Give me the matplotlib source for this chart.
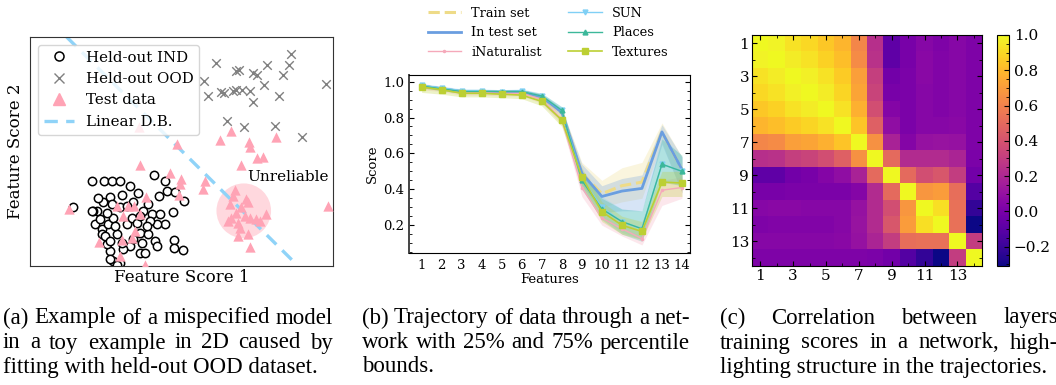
import numpy as np
import matplotlib
matplotlib.use('Agg')
import matplotlib.pyplot as plt
from matplotlib.lines import Line2D
from matplotlib.patches import Circle
from matplotlib.ticker import AutoMinorLocator, MultipleLocator

plt.rcParams['font.family'] = 'DejaVu Serif'
plt.rcParams['mathtext.fontset'] = 'dejavuserif'

# ---- (a) toy example, feature scores ----
ind_x = [1.87, 2.23, 2.47, 2.70, 3.00, 3.25, 3.73, 4.05, 4.10, 3.88, 4.35, 4.62, 4.28, 1.30,
         2.00, 2.20, 2.40, 2.75, 3.10, 3.55, 3.40, 3.65, 3.90, 4.05, 3.80, 3.60, 1.95, 2.15,
         2.35, 2.50, 2.30, 2.60, 2.90, 3.30, 3.55, 3.75, 3.80, 3.35, 3.30, 3.45, 3.00, 2.80,
         2.40, 2.30, 4.33, 4.33, 4.60, 2.50, 2.70, 2.15, 1.90, 2.10, 2.45, 2.70, 3.05, 3.20,
         2.90, 2.55, 2.25, 2.75, 3.10, 2.40, 3.50, 3.30, 2.05, 1.85, 2.40, 2.60]
ind_y = [2.55, 2.55, 2.53, 2.53, 2.40, 2.18, 2.72, 2.53, 2.25, 2.10, 2.20, 1.93, 1.63, 1.77,
         1.65, 1.90, 2.05, 2.13, 1.90, 1.85, 1.65, 1.57, 1.55, 1.25, 1.25, 1.35, 1.27, 1.10,
         1.25, 1.45, 1.60, 0.95, 1.25, 1.00, 0.95, 0.75, 0.60, 0.70, 0.40, 0.40, 0.60, 0.50,
         0.45, 0.65, 0.77, 0.53, 0.47, 0.15, 0.10, 0.95, 1.65, 1.40, 1.85, 1.75, 1.45, 1.30,
         1.80, 1.20, 0.90, 0.70, 0.80, 0.75, 1.20, 1.50, 2.03, 1.65, 0.20, 0.02]

ood_x = [5.60, 6.20, 6.27, 6.70, 6.82, 7.12, 7.85, 7.78, 7.60, 7.02, 5.23, 5.35, 5.75,
         5.83, 6.10, 6.20, 6.38, 6.60, 6.70, 7.48, 8.90, 5.93, 6.42, 7.35, 8.17]
ood_y = [6.07, 5.83, 5.87, 5.77, 5.70, 6.00, 6.33, 6.00, 5.72, 5.40, 5.53, 5.10, 5.20,
         5.18, 5.23, 5.27, 5.27, 5.23, 4.90, 5.10, 5.43, 4.35, 4.15, 4.20, 3.85]

test_x = [6.05, 5.70, 6.58, 6.60, 7.40, 6.82, 7.00, 6.33, 5.25, 5.20, 4.52, 4.50, 4.48, 4.40,
          8.95, 6.15, 6.10, 6.50, 6.55, 6.00, 6.35, 6.20, 6.05, 5.95, 6.25, 6.60, 6.90, 7.10,
          6.30, 6.55, 6.25, 6.60, 6.45, 6.80, 3.30, 4.20, 1.18, 2.60, 2.95, 3.12, 3.48, 2.80,
          3.30, 3.15, 2.75, 3.05, 2.08, 2.70, 3.45, 3.28]
test_y = [4.05, 3.77, 3.72, 3.57, 3.85, 3.22, 3.25, 3.03, 2.55, 2.30, 2.60, 2.45, 2.13, 3.65,
          1.80, 2.27, 2.10, 2.00, 1.90, 1.85, 1.75, 1.60, 1.45, 1.35, 1.30, 1.45, 1.35, 1.57,
          1.15, 0.95, 0.90, 0.57, 1.50, 1.40, 3.03, 2.77, 1.70, 1.80, 1.80, 1.80, 2.05, 1.50,
          1.55, 1.05, 0.77, 0.83, 0.73, 0.30, 0.03, 4.15]

db_x = [1.10, 7.95]
db_y = [6.85, 0.10]
unreliable_center = (6.42, 1.65)
unreliable_radius = 0.82

# ---- (b) trajectories with 25/75 percentile bands ----
features = np.arange(1, 15)
series = {
    'Train set': dict(
        mid=[0.975, 0.96, 0.945, 0.945, 0.94, 0.945, 0.915, 0.83, 0.49, 0.375, 0.42, 0.44, 0.72, 0.51],
        lo=[0.965, 0.95, 0.935, 0.935, 0.93, 0.935, 0.90, 0.81, 0.42, 0.30, 0.33, 0.35, 0.66, 0.38],
        hi=[0.985, 0.97, 0.955, 0.955, 0.95, 0.955, 0.93, 0.85, 0.55, 0.45, 0.52, 0.55, 0.77, 0.58]),
    'In test set': dict(
        mid=[0.975, 0.96, 0.945, 0.945, 0.94, 0.945, 0.915, 0.83, 0.49, 0.36, 0.39, 0.405, 0.72, 0.51],
        lo=[0.965, 0.95, 0.935, 0.935, 0.93, 0.935, 0.90, 0.81, 0.43, 0.27, 0.28, 0.28, 0.65, 0.38],
        hi=[0.985, 0.97, 0.955, 0.955, 0.95, 0.955, 0.93, 0.85, 0.54, 0.42, 0.46, 0.48, 0.76, 0.58]),
    'iNaturalist': dict(
        mid=[0.97, 0.96, 0.94, 0.94, 0.935, 0.935, 0.90, 0.79, 0.41, 0.24, 0.18, 0.125, 0.395, 0.41],
        lo=[0.955, 0.945, 0.925, 0.925, 0.92, 0.92, 0.88, 0.76, 0.36, 0.20, 0.14, 0.09, 0.31, 0.35],
        hi=[0.985, 0.975, 0.955, 0.955, 0.95, 0.95, 0.92, 0.82, 0.45, 0.30, 0.22, 0.17, 0.45, 0.47]),
    'SUN': dict(
        mid=[0.98, 0.965, 0.95, 0.95, 0.945, 0.95, 0.92, 0.84, 0.46, 0.30, 0.22, 0.18, 0.54, 0.50],
        lo=[0.97, 0.955, 0.94, 0.94, 0.935, 0.94, 0.905, 0.82, 0.41, 0.24, 0.16, 0.12, 0.45, 0.42],
        hi=[0.99, 0.975, 0.96, 0.96, 0.955, 0.96, 0.935, 0.86, 0.51, 0.36, 0.29, 0.28, 0.70, 0.58]),
    'Places': dict(
        mid=[0.975, 0.96, 0.945, 0.945, 0.945, 0.945, 0.92, 0.84, 0.45, 0.29, 0.22, 0.18, 0.54, 0.50],
        lo=[0.965, 0.95, 0.935, 0.935, 0.935, 0.935, 0.905, 0.82, 0.40, 0.23, 0.15, 0.11, 0.44, 0.42],
        hi=[0.985, 0.97, 0.955, 0.955, 0.955, 0.955, 0.935, 0.86, 0.50, 0.35, 0.29, 0.28, 0.68, 0.59]),
    'Textures': dict(
        mid=[0.97, 0.955, 0.935, 0.935, 0.93, 0.925, 0.89, 0.785, 0.47, 0.275, 0.20, 0.165, 0.44, 0.435],
        lo=[0.94, 0.93, 0.915, 0.915, 0.91, 0.905, 0.865, 0.75, 0.42, 0.22, 0.15, 0.12, 0.36, 0.36],
        hi=[0.985, 0.97, 0.95, 0.95, 0.945, 0.94, 0.91, 0.81, 0.52, 0.33, 0.25, 0.22, 0.50, 0.50]),
}
styles = {
    'Train set': dict(color='#eedb88', ls='--', lw=2.2, marker=None, ms=0),
    'In test set': dict(color='#6a9ee0', ls='-', lw=2.0, marker=None, ms=0),
    'iNaturalist': dict(color='#f5a9ba', ls='-', lw=1.0, marker='.', ms=3),
    'SUN': dict(color='#80d0f5', ls='-', lw=1.0, marker='v', ms=3.5),
    'Places': dict(color='#3cb89a', ls='-', lw=1.0, marker='^', ms=3.5),
    'Textures': dict(color='#bccf33', ls='-', lw=1.2, marker='s', ms=4),
}

# ---- (c) correlation between layer scores (lower triangle, row by row) ----
corr_lower = [
    [1.0],
    [0.98, 1.0],
    [0.93, 0.96, 1.0],
    [0.90, 0.93, 0.97, 1.0],
    [0.85, 0.88, 0.93, 0.96, 1.0],
    [0.79, 0.82, 0.86, 0.89, 0.93, 1.0],
    [0.62, 0.64, 0.71, 0.73, 0.77, 0.84, 1.0],
    [0.24, 0.25, 0.31, 0.33, 0.38, 0.46, 0.66, 1.0],
    [-0.08, -0.08, -0.02, 0.0, 0.04, 0.08, 0.18, 0.50, 1.0],
    [0.0, 0.0, 0.01, 0.01, 0.01, 0.01, 0.04, 0.22, 0.50, 1.0],
    [0.05, 0.06, 0.06, 0.05, 0.05, 0.05, 0.10, 0.22, 0.38, 0.68, 1.0],
    [0.02, 0.03, 0.03, 0.03, 0.03, 0.05, 0.11, 0.22, 0.42, 0.70, 0.92, 1.0],
    [0.05, 0.05, 0.05, 0.05, 0.05, 0.06, 0.10, 0.19, 0.30, 0.52, 0.53, 0.53, 1.0],
    [0.02, 0.02, 0.02, 0.02, 0.02, 0.02, 0.02, 0.01, -0.02, -0.12, -0.22, -0.31, 0.30, 1.0],
]
corr = np.zeros((14, 14))
for i, row in enumerate(corr_lower):
    for j, v in enumerate(row):
        corr[i, j] = v
        corr[j, i] = v

captions = [
    ["(a) Example of a mispecified model", "in a toy example in 2D caused by",
     "fitting with held-out OOD dataset."],
    ["(b) Trajectory of data through a net-", "work with 25% and 75% percentile", "bounds."],
    ["(c) Correlation between layers", "training scores in a network, high-",
     "lighting structure in the trajectories."],
]

W, H = 1056, 385
fig = plt.figure(figsize=(W / 100, H / 100), dpi=100)

def px_axes(l, t, r, b):
    return fig.add_axes([l / W, 1 - b / H, (r - l) / W, (b - t) / H])

# panel a
ax = px_axes(30, 37, 333, 266)
ax.plot(db_x, db_y, ls=(0, (4, 2.5)), color='#8fd3f8', lw=2.4, zorder=1)
ax.add_patch(Circle(unreliable_center, unreliable_radius, color='#ffb8c4', alpha=0.55,
                    lw=0, zorder=0))
ax.scatter(ind_x, ind_y, s=36, facecolors='white', edgecolors='black', lw=1.1, zorder=2)
ax.scatter(ood_x, ood_y, s=38, marker='x', color='#808080', lw=1.0, zorder=2)
ax.scatter(test_x, test_y, s=55, marker='^', color='#ffa3b5', lw=0, zorder=3)
ax.text(7.75, 2.65, 'Unreliable', fontsize=11, ha='center', va='center')
ax.set_xlim(0, 9.1)
ax.set_ylim(0, 6.85)
ax.set_xticks([])
ax.set_yticks([])
ax.set_xlabel('Feature Score 1', fontsize=12, labelpad=2)
ax.set_ylabel('Feature Score 2', fontsize=12, labelpad=4)
for s in ax.spines.values():
    s.set_color('#333333')
handles = [
    Line2D([], [], ls='', marker='o', mfc='white', mec='black', ms=6.5, mew=1.1),
    Line2D([], [], ls='', marker='x', color='#808080', ms=6.5, mew=1.0),
    Line2D([], [], ls='', marker='^', color='#ffa3b5', ms=8),
    Line2D([], [], ls=(0, (4, 2.5)), color='#8fd3f8', lw=2.4),
]
leg = ax.legend(handles, ['Held-out IND', 'Held-out OOD', 'Test data', 'Linear D.B.'],
                loc='upper left', fontsize=10.8, frameon=True, handlelength=2.0,
                borderaxespad=0.5, labelspacing=0.5, bbox_to_anchor=(0.0, 1.0))
leg.get_frame().set_edgecolor('#cccccc')

# panel b
ax = px_axes(409, 75, 690, 253)
for name in series:
    d, st = series[name], styles[name]
    ax.fill_between(features, d['lo'], d['hi'], color=st['color'], alpha=0.27, lw=0)
for name in series:
    d, st = series[name], styles[name]
    ax.plot(features, d['mid'], color=st['color'], ls=st['ls'], lw=st['lw'],
            marker=st['marker'], ms=st['ms'], label=name)
ax.set_xlim(0.37, 14.4)
ax.set_ylim(0.045, 1.037)
ax.set_xticks(features)
ax.set_yticks([0.2, 0.4, 0.6, 0.8, 1.0])
ax.yaxis.set_minor_locator(AutoMinorLocator(4))
ax.tick_params(axis='y', which='both', direction='in', right=True, labelsize=9.5)
ax.tick_params(axis='y', which='major', length=3.5)
ax.tick_params(axis='y', which='minor', length=2)
ax.tick_params(axis='x', length=0, labelsize=9.5, pad=4)
ax.set_xlabel('Features', fontsize=9.5, labelpad=1)
ax.set_ylabel('Score', fontsize=9.5, labelpad=3)
ax.spines['left'].set_linewidth(1.4)
ax.spines['left'].set_color('#444444')
fig.legend(*ax.get_legend_handles_labels(), loc='upper center', ncol=2, frameon=False,
           fontsize=9.3, bbox_to_anchor=(548 / W, 1.012), handlelength=2.6,
           columnspacing=2.0, labelspacing=0.5)

# panel c
ax = px_axes(752, 35, 982, 266)
im = ax.imshow(corr, cmap='plasma', vmin=-0.31, vmax=1.0, aspect='auto',
               interpolation='nearest')
ax.set_xticks(np.arange(0, 14, 2))
ax.set_xticklabels([str(i) for i in range(1, 15, 2)])
ax.set_yticks(np.arange(0, 14, 2))
ax.set_yticklabels([str(i) for i in range(1, 15, 2)])
ax.xaxis.set_minor_locator(MultipleLocator(1))
ax.yaxis.set_minor_locator(MultipleLocator(1))
ax.tick_params(which='both', direction='in', top=True, right=True, labelsize=11)
ax.tick_params(which='major', length=3.5, pad=2)
ax.tick_params(which='minor', length=2)
cax = px_axes(997, 35, 1009, 266)
cb = fig.colorbar(im, cax=cax, ticks=[-0.2, 0.0, 0.2, 0.4, 0.6, 0.8, 1.0])
cb.ax.yaxis.set_minor_locator(AutoMinorLocator(4))
cb.ax.tick_params(which='both', direction='in', labelsize=11)
cb.ax.tick_params(which='major', length=3.5)
cb.ax.tick_params(which='minor', length=2)
cb.outline.set_linewidth(0.8)

# captions, justified like the paper columns
renderer = fig.canvas.get_renderer()
cols = [(3, 333), (362, 690), (720, 1058)]
line_y = [318, 343, 367]
cap_font = dict(family='Liberation Serif', fontsize=16.5, va='center')
for (x0, x1), lines in zip(cols, captions):
    for k, line in enumerate(lines):
        y = 1 - line_y[k] / H
        if k == len(lines) - 1:
            fig.text(x0 / W, y, line, **cap_font)
            continue
        words = line.split(' ')
        texts = [fig.text(0, y, w, **cap_font) for w in words]
        widths = [t.get_window_extent(renderer).width for t in texts]
        gap = max((x1 - x0 - sum(widths)) / (len(words) - 1), 2.5)
        x = x0
        for t, w in zip(texts, widths):
            t.set_x(x / W)
            x += w + gap

fig.savefig('out.png', dpi=100)
